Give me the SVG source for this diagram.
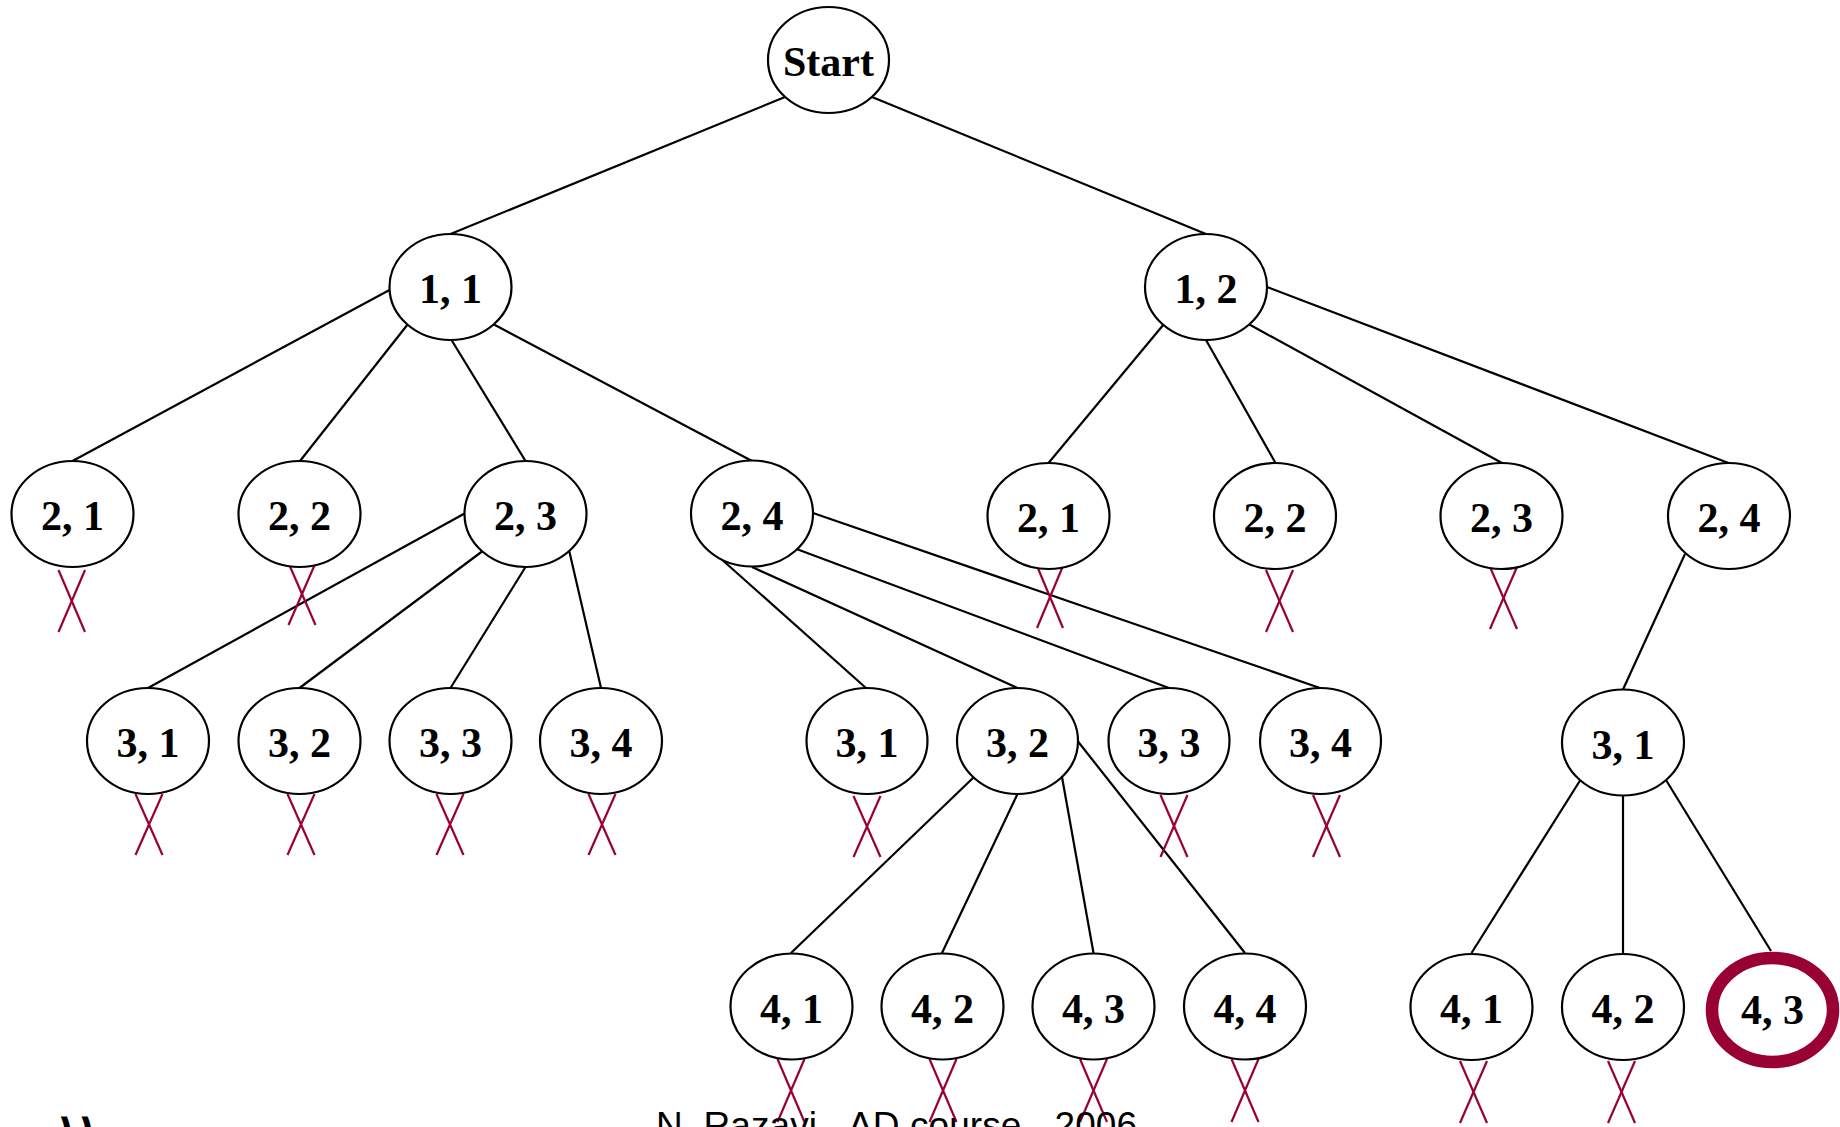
<svg xmlns="http://www.w3.org/2000/svg" width="1840" height="1127" viewBox="0 0 1840 1127">
<style>
.n ellipse{fill:#fff;stroke:#000;stroke-width:2.2}
.n text{font-family:"Liberation Serif","Times New Roman",serif;font-weight:bold;font-size:42px;text-anchor:middle;fill:#000}
#edges line{stroke:#000;stroke-width:2.2}
.x line{stroke:#990033;stroke-width:2.2}
#goal ellipse{stroke:#990033;stroke-width:12.5}
.foot{font-family:"Liberation Sans",Arial,sans-serif;font-size:37px;fill:#000}
</style>
<rect width="1840" height="1127" fill="#fff"/>
<g id="edges">
<line x1="785" y1="97" x2="450.5" y2="234"/>
<line x1="872" y1="97" x2="1206" y2="234"/>
<line x1="389.5" y1="290" x2="72.5" y2="461"/>
<line x1="408" y1="324" x2="300" y2="461"/>
<line x1="451.5" y1="340" x2="525.5" y2="461"/>
<line x1="493" y1="324" x2="752" y2="461"/>
<line x1="1164" y1="324" x2="1048.5" y2="463"/>
<line x1="1206" y1="340" x2="1275.5" y2="463"/>
<line x1="1248.5" y1="324" x2="1502" y2="463"/>
<line x1="1267" y1="287" x2="1728.5" y2="463"/>
<line x1="465.5" y1="513" x2="148" y2="688"/>
<line x1="482" y1="551.5" x2="299.5" y2="688"/>
<line x1="525.5" y1="567" x2="450.5" y2="688"/>
<line x1="569" y1="550" x2="601" y2="688"/>
<line x1="710" y1="549" x2="866" y2="688"/>
<line x1="752" y1="567" x2="1017.5" y2="688"/>
<line x1="796.5" y1="549" x2="1169" y2="688"/>
<line x1="813" y1="513" x2="1320" y2="688"/>
<line x1="1685" y1="554" x2="1623" y2="689.5"/>
<line x1="974" y1="777" x2="791" y2="953"/>
<line x1="1017.5" y1="794" x2="942" y2="953"/>
<line x1="1062" y1="777" x2="1093.5" y2="953"/>
<line x1="1078" y1="741.5" x2="1245" y2="953"/>
<line x1="1581" y1="779" x2="1471.5" y2="953"/>
<line x1="1623" y1="795.5" x2="1623" y2="953"/>
<line x1="1666" y1="780" x2="1771" y2="951"/>
</g>
<g id="crosses" class="x">
<g><line x1="58.5" y1="570" x2="85" y2="632"/><line x1="85" y1="570" x2="58.5" y2="632"/></g>
<g><line x1="288.5" y1="563" x2="315.5" y2="625"/><line x1="315.5" y1="563" x2="288.5" y2="625"/></g>
<g><line x1="1037" y1="566" x2="1063" y2="628"/><line x1="1063" y1="566" x2="1037" y2="628"/></g>
<g><line x1="1266" y1="570" x2="1293" y2="632"/><line x1="1293" y1="570" x2="1266" y2="632"/></g>
<g><line x1="1490" y1="567" x2="1517" y2="629"/><line x1="1517" y1="567" x2="1490" y2="629"/></g>
<g><line x1="135.5" y1="794" x2="162.5" y2="855"/><line x1="162.5" y1="794" x2="135.5" y2="855"/></g>
<g><line x1="287.5" y1="794" x2="314.5" y2="855"/><line x1="314.5" y1="794" x2="287.5" y2="855"/></g>
<g><line x1="436.5" y1="794" x2="463.5" y2="855"/><line x1="463.5" y1="794" x2="436.5" y2="855"/></g>
<g><line x1="588.5" y1="794" x2="615.5" y2="855"/><line x1="615.5" y1="794" x2="588.5" y2="855"/></g>
<g><line x1="853.5" y1="796" x2="880.5" y2="857"/><line x1="880.5" y1="796" x2="853.5" y2="857"/></g>
<g><line x1="1160.5" y1="795" x2="1187.5" y2="857"/><line x1="1187.5" y1="795" x2="1160.5" y2="857"/></g>
<g><line x1="1313" y1="795" x2="1340" y2="857"/><line x1="1340" y1="795" x2="1313" y2="857"/></g>
<g><line x1="777.5" y1="1059" x2="804.5" y2="1122"/><line x1="804.5" y1="1059" x2="777.5" y2="1122"/></g>
<g><line x1="929.5" y1="1059" x2="956.5" y2="1122"/><line x1="956.5" y1="1059" x2="929.5" y2="1122"/></g>
<g><line x1="1080" y1="1059" x2="1107" y2="1122"/><line x1="1107" y1="1059" x2="1080" y2="1122"/></g>
<g><line x1="1231.5" y1="1059" x2="1258.5" y2="1122"/><line x1="1258.5" y1="1059" x2="1231.5" y2="1122"/></g>
<g><line x1="1460" y1="1061" x2="1487" y2="1123"/><line x1="1487" y1="1061" x2="1460" y2="1123"/></g>
<g><line x1="1608" y1="1061" x2="1635" y2="1123"/><line x1="1635" y1="1061" x2="1608" y2="1123"/></g>
</g>
<g id="start" class="n"><ellipse cx="828.5" cy="60" rx="60.5" ry="53"/><text x="828.5" y="76">Start</text></g>
<g id="n11" class="n"><ellipse cx="450.5" cy="287" rx="61" ry="53"/><text x="450.5" y="303">1, 1</text></g>
<g id="n12" class="n"><ellipse cx="1206" cy="287" rx="61" ry="53"/><text x="1206" y="303">1, 2</text></g>
<g id="n11-21" class="n"><ellipse cx="72.5" cy="514" rx="61" ry="53"/><text x="72.5" y="530">2, 1</text></g>
<g id="n11-22" class="n"><ellipse cx="299.5" cy="514" rx="61" ry="53"/><text x="299.5" y="530">2, 2</text></g>
<g id="n11-23" class="n"><ellipse cx="525.5" cy="514" rx="61" ry="53"/><text x="525.5" y="530">2, 3</text></g>
<g id="n11-24" class="n"><ellipse cx="752" cy="513.5" rx="61" ry="53"/><text x="752" y="529.5">2, 4</text></g>
<g id="n12-21" class="n"><ellipse cx="1048.5" cy="516" rx="61" ry="53"/><text x="1048.5" y="532">2, 1</text></g>
<g id="n12-22" class="n"><ellipse cx="1275" cy="516" rx="61" ry="53"/><text x="1275" y="532">2, 2</text></g>
<g id="n12-23" class="n"><ellipse cx="1501.5" cy="516" rx="61" ry="53"/><text x="1501.5" y="532">2, 3</text></g>
<g id="n12-24" class="n"><ellipse cx="1729" cy="516" rx="61" ry="53"/><text x="1729" y="532">2, 4</text></g>
<g id="n23-31" class="n"><ellipse cx="148" cy="741" rx="61" ry="53"/><text x="148" y="757">3, 1</text></g>
<g id="n23-32" class="n"><ellipse cx="299.5" cy="741" rx="61" ry="53"/><text x="299.5" y="757">3, 2</text></g>
<g id="n23-33" class="n"><ellipse cx="450.5" cy="741" rx="61" ry="53"/><text x="450.5" y="757">3, 3</text></g>
<g id="n23-34" class="n"><ellipse cx="601" cy="741" rx="61" ry="53"/><text x="601" y="757">3, 4</text></g>
<g id="n24-31" class="n"><ellipse cx="867" cy="741" rx="60.5" ry="53"/><text x="867" y="757">3, 1</text></g>
<g id="n24-32" class="n"><ellipse cx="1017.5" cy="741" rx="60.5" ry="53"/><text x="1017.5" y="757">3, 2</text></g>
<g id="n24-33" class="n"><ellipse cx="1169" cy="741" rx="60.5" ry="53"/><text x="1169" y="757">3, 3</text></g>
<g id="n24-34" class="n"><ellipse cx="1320.5" cy="741" rx="60.5" ry="53"/><text x="1320.5" y="757">3, 4</text></g>
<g id="n124-31" class="n"><ellipse cx="1623" cy="742.5" rx="61" ry="53"/><text x="1623" y="758.5">3, 1</text></g>
<g id="n32-41" class="n"><ellipse cx="791.5" cy="1006.5" rx="61" ry="53"/><text x="791.5" y="1022.5">4, 1</text></g>
<g id="n32-42" class="n"><ellipse cx="942.5" cy="1006.5" rx="61" ry="53"/><text x="942.5" y="1022.5">4, 2</text></g>
<g id="n32-43" class="n"><ellipse cx="1093.5" cy="1006.5" rx="61" ry="53"/><text x="1093.5" y="1022.5">4, 3</text></g>
<g id="n32-44" class="n"><ellipse cx="1245" cy="1006.5" rx="61" ry="53"/><text x="1245" y="1022.5">4, 4</text></g>
<g id="n31-41" class="n"><ellipse cx="1471.5" cy="1007" rx="61" ry="53"/><text x="1471.5" y="1023">4, 1</text></g>
<g id="n31-42" class="n"><ellipse cx="1623" cy="1007" rx="61" ry="53"/><text x="1623" y="1023">4, 2</text></g>
<g id="goal" class="n"><ellipse cx="1772.5" cy="1010" rx="60.5" ry="52"/><text x="1772.5" y="1024">4, 3</text></g>
<text class="foot" x="656" y="1138" textLength="481">N. Razavi - AD course - 2006</text>
<text x="56" y="1138" style="font-family:'DejaVu Sans',sans-serif;font-size:34px;font-weight:bold;fill:#000">١١</text>
</svg>
